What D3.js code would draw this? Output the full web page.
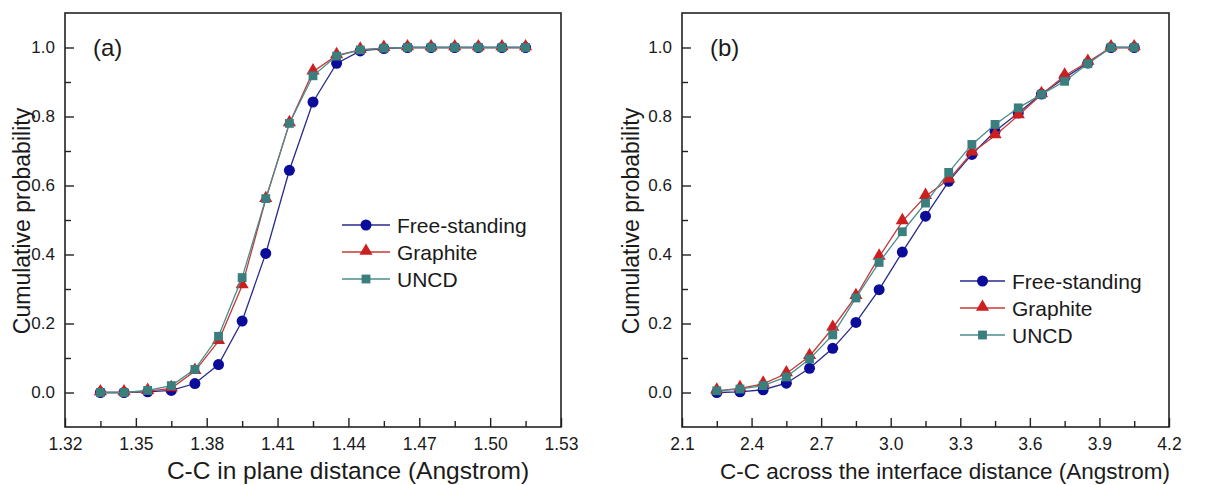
<!DOCTYPE html>
<html>
<head>
	<meta charset="utf-8">
	<title>Cumulative probability of C-C distances</title>
	<script src="https://cdn.jsdelivr.net/npm/d3@7/dist/d3.min.js"></script>
	<style type="text/css">
		html, body {
			margin: 0;
			padding: 0;
			background: white;
		}
		svg text {
			font-family: 'Liberation Sans', Arial, sans-serif;
			fill: #1a1a1a;
		}
	</style>
</head>
<body>

<svg id="chart" width="1210" height="485"></svg>

<script type="text/javascript">

// panel (a): in plane
var xA = [1.335, 1.345, 1.355, 1.365, 1.375, 1.385, 1.395, 1.405, 1.415, 1.425,
	1.435, 1.445, 1.455, 1.465, 1.475, 1.485, 1.495, 1.505, 1.515];
var freeA = [0, 0, 0.002, 0.006, 0.026, 0.081, 0.207, 0.403, 0.644, 0.842,
	0.954, 0.99, 0.997, 1, 1, 1, 1, 1, 1];
var graphiteA = [0, 0, 0.004, 0.012, 0.062, 0.149, 0.31, 0.56, 0.78, 0.93,
	0.977, 0.993, 0.998, 1, 1, 1, 1, 1, 1];
var uncdA = [0, 0, 0.006, 0.02, 0.067, 0.163, 0.333, 0.562, 0.78, 0.918,
	0.975, 0.993, 0.998, 1, 1, 1, 1, 1, 1];
var xTicksA = [1.32, 1.35, 1.38, 1.41, 1.44, 1.47, 1.50, 1.53];

// panel (b): across the interface
var xB = [2.25, 2.35, 2.45, 2.55, 2.65, 2.75, 2.85, 2.95, 3.05, 3.15,
	3.25, 3.35, 3.45, 3.55, 3.65, 3.75, 3.85, 3.95, 4.05];
var freeB = [0, 0.002, 0.008, 0.027, 0.07, 0.128, 0.203, 0.298, 0.407, 0.511,
	0.612, 0.69, 0.757, 0.81, 0.865, 0.912, 0.955, 1, 1];
var graphiteB = [0.005, 0.012, 0.025, 0.055, 0.105, 0.187, 0.279, 0.393, 0.496, 0.569,
	0.617, 0.695, 0.745, 0.803, 0.864, 0.918, 0.958, 1, 1];
var uncdB = [0.005, 0.01, 0.02, 0.045, 0.097, 0.167, 0.274, 0.377, 0.466, 0.549,
	0.638, 0.719, 0.777, 0.825, 0.864, 0.902, 0.953, 1, 1];
var xTicksB = [2.1, 2.4, 2.7, 3.0, 3.3, 3.6, 3.9, 4.2];

var yTicks = [0.0, 0.2, 0.4, 0.6, 0.8, 1.0];
var seriesNames = ["Free-standing", "Graphite", "UNCD"];

var styles = [
	{line: "#2a2a8c", fill: "#0c0c9a", symbol: d3.symbolCircle, size: 95},
	{line: "#c43a3a", fill: "#cc1f1f", symbol: d3.symbolTriangle, size: 75},
	{line: "#4a8c8c", fill: "#3b7e7e", symbol: d3.symbolSquare, size: 78}
];

var svg = d3.select("#chart");

function drawPanel(p) {

	var x = d3.scaleLinear().domain(p.xDomain).range([p.left, p.right]);
	var y = d3.scaleLinear().domain([-0.1, 1.1]).range([427, 13]);

	var g = svg.append("g");

	// minor ticks at half steps
	var step = p.xTicks[1] - p.xTicks[0];
	var minorX = p.xTicks.slice(0, -1).map(function(d) { return d + step / 2; });
	var minorY = yTicks.slice(0, -1).map(function(d) { return d + 0.1; });

	g.append("g")
		.attr("transform", "translate(0,427)")
		.call(d3.axisBottom(x).tickValues(minorX).tickSize(-6).tickFormat(""))
		.call(function(s) { s.select(".domain").remove(); });

	g.append("g")
		.attr("transform", "translate(" + p.left + ",0)")
		.call(d3.axisLeft(y).tickValues(minorY).tickSize(-6).tickFormat(""))
		.call(function(s) { s.select(".domain").remove(); });

	var xAxis = g.append("g")
		.attr("transform", "translate(0,427)")
		.call(d3.axisBottom(x).tickValues(p.xTicks).tickSize(-9).tickPadding(11).tickFormat(d3.format(p.fmt)));
	xAxis.select(".domain").remove();
	xAxis.selectAll(".tick text").style("font-size", "17.5px");

	var yAxis = g.append("g")
		.attr("transform", "translate(" + p.left + ",0)")
		.call(d3.axisLeft(y).tickValues(yTicks).tickSize(-9).tickPadding(10).tickFormat(d3.format(".1f")));
	yAxis.select(".domain").remove();
	yAxis.selectAll(".tick text").style("font-size", "17px");

	g.selectAll(".tick line").attr("stroke", "#222").attr("stroke-width", 1.4);

	// frame
	g.append("rect")
		.attr("x", p.left)
		.attr("y", 13)
		.attr("width", p.right - p.left)
		.attr("height", 414)
		.attr("fill", "none")
		.attr("stroke", "#222")
		.attr("stroke-width", 1.6);

	var line = d3.line()
		.x(function(d) { return x(d[0]); })
		.y(function(d) { return y(d[1]); });

	p.series.forEach(function(vals, i) {
		var pts = p.xs.map(function(d, j) { return [d, vals[j]]; });
		var st = styles[i];

		g.append("path")
			.datum(pts)
			.attr("d", line)
			.attr("fill", "none")
			.attr("stroke", st.line)
			.attr("stroke-width", 1.3);

		g.selectAll(".m" + i)
			.data(pts)
			.enter().append("path")
			.attr("class", "m" + i)
			.attr("d", d3.symbol().type(st.symbol).size(st.size))
			.attr("transform", function(d) {
				var dy = st.symbol === d3.symbolTriangle ? -1 : 0;
				return "translate(" + x(d[0]) + "," + (y(d[1]) + dy) + ")";
			})
			.attr("fill", st.fill);
	});

	// legend
	var leg = g.append("g");
	seriesNames.forEach(function(name, i) {
		var st = styles[i];
		var ly = p.legY + i * 27;
		leg.append("line")
			.attr("x1", p.legX)
			.attr("x2", p.legX + p.legW)
			.attr("y1", ly)
			.attr("y2", ly)
			.attr("stroke", st.line)
			.attr("stroke-width", 1.3);
		leg.append("path")
			.attr("d", d3.symbol().type(st.symbol).size(st.size))
			.attr("transform", "translate(" + (p.legX + p.legW / 2) + "," + (ly - (st.symbol === d3.symbolTriangle ? 1 : 0)) + ")")
			.attr("fill", st.fill);
		leg.append("text")
			.attr("x", p.legX + p.legW + 7)
			.attr("y", ly + 7.5)
			.style("font-size", "21px")
			.text(name);
	});

	// panel label
	g.append("text")
		.attr("x", p.left + 28)
		.attr("y", 56)
		.style("font-size", "24px")
		.text(p.label);

	// axis titles
	g.append("text")
		.attr("x", p.xTitleX)
		.attr("y", 479)
		.attr("text-anchor", "middle")
		.style("font-size", p.xTitleSize + "px")
		.text(p.xTitle);

	g.append("text")
		.attr("transform", "translate(" + p.yTitleX + ",221) rotate(-90)")
		.attr("text-anchor", "middle")
		.style("font-size", "23px")
		.text("Cumulative probability");
}

drawPanel({
	left: 65, right: 561,
	xDomain: [1.32, 1.53],
	xTicks: xTicksA,
	fmt: ".2f",
	xs: xA,
	series: [freeA, graphiteA, uncdA],
	legX: 342, legY: 225, legW: 48,
	label: "(a)",
	xTitle: "C-C in plane distance (Angstrom)",
	xTitleX: 348, xTitleSize: 24.5,
	yTitleX: 30
});

drawPanel({
	left: 682, right: 1169,
	xDomain: [2.1, 4.2],
	xTicks: xTicksB,
	fmt: ".1f",
	xs: xB,
	series: [freeB, graphiteB, uncdB],
	legX: 960, legY: 281, legW: 45,
	label: "(b)",
	xTitle: "C-C across the interface distance (Angstrom)",
	xTitleX: 945, xTitleSize: 22.5,
	yTitleX: 639
});

</script>

</body>
</html>
